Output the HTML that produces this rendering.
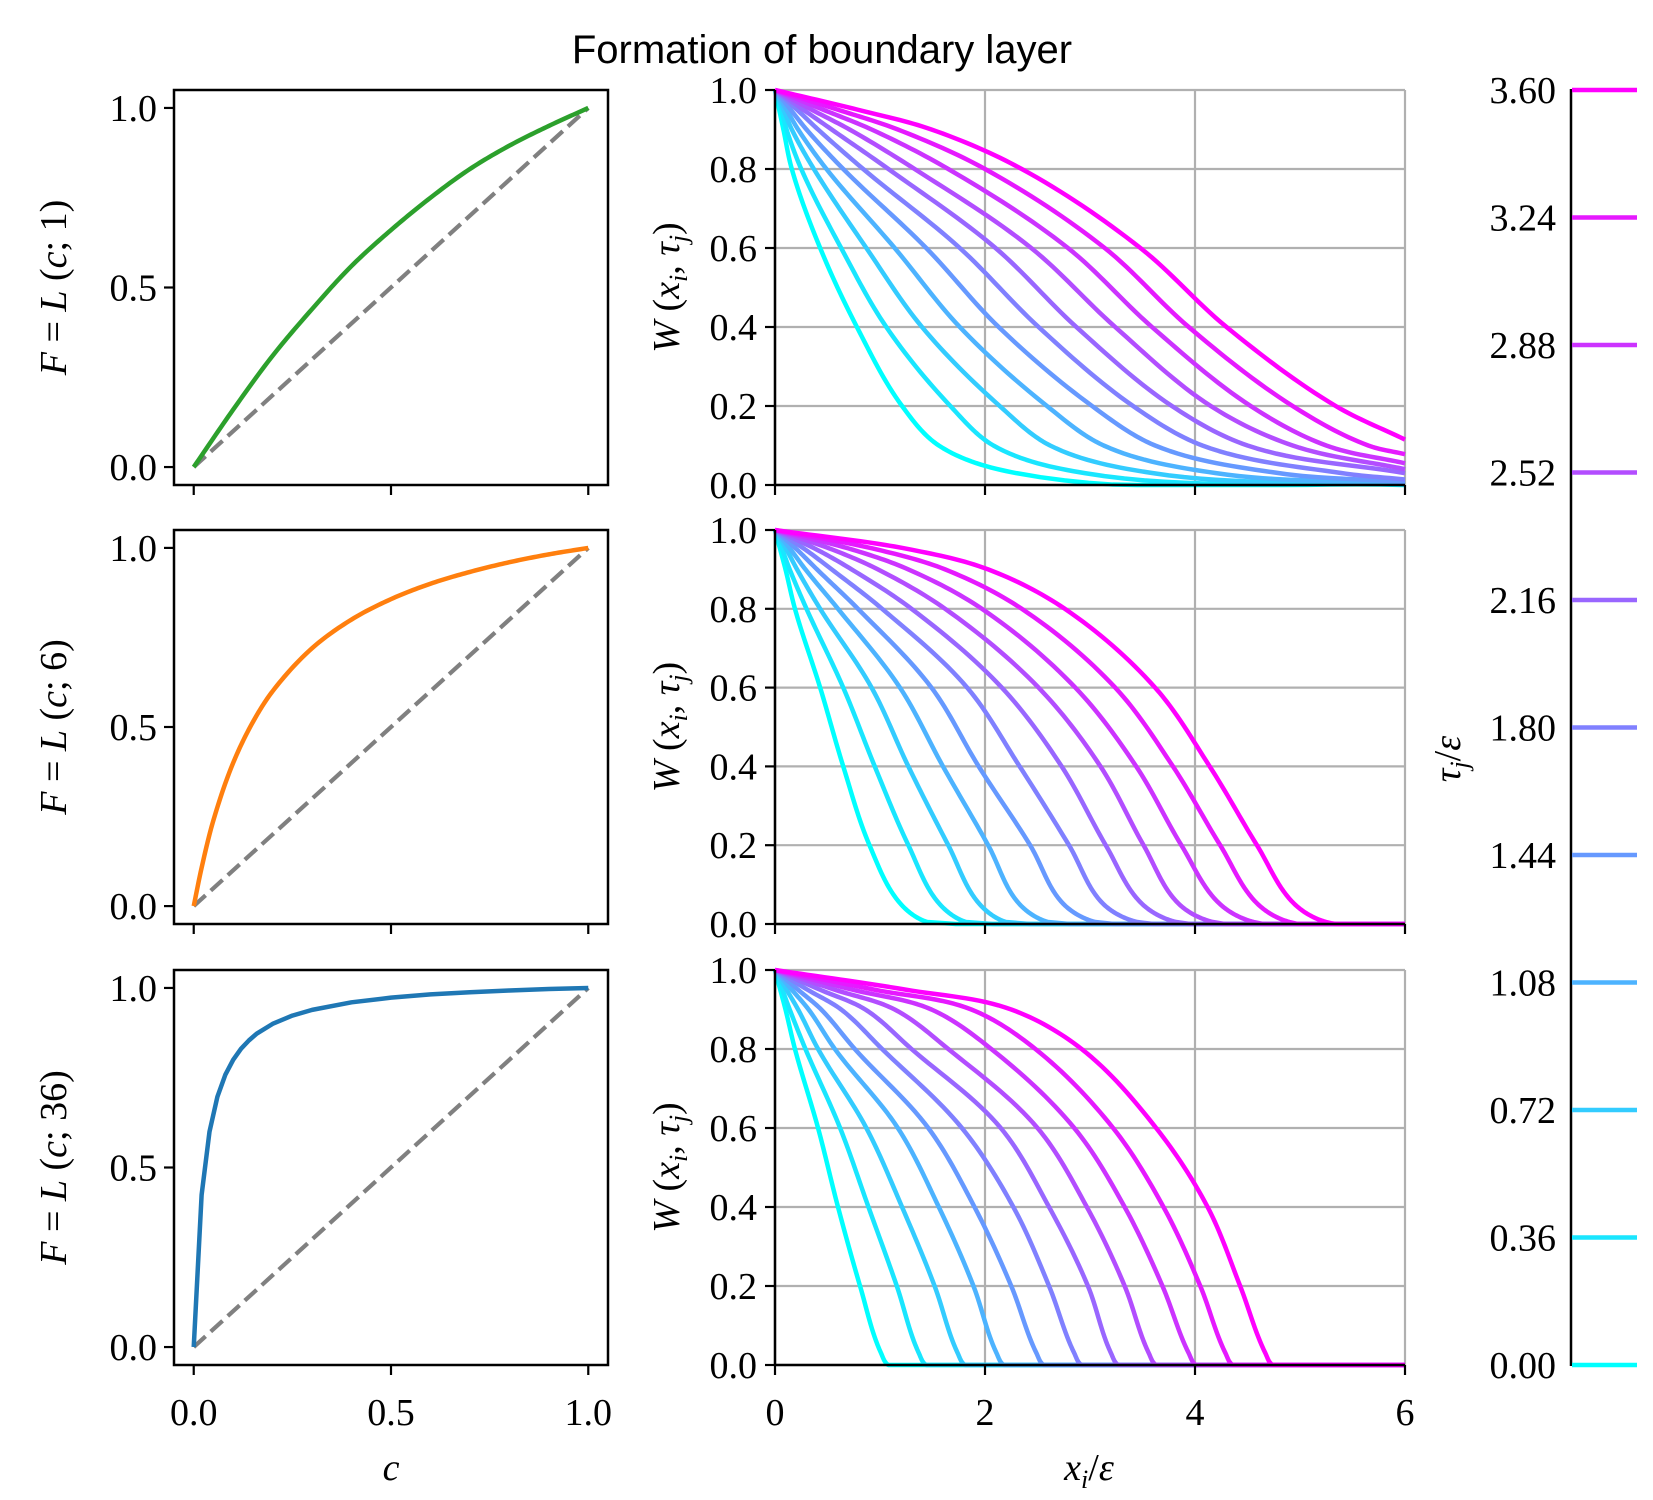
<!DOCTYPE html>
<html><head><meta charset="utf-8"><style>
html,body{margin:0;padding:0;background:#fff;}
svg{display:block;}
text{font-family:"Liberation Serif",serif;fill:#000;}
</style></head><body>
<svg id="fig" width="1653" height="1500" viewBox="0 0 1653 1500" xmlns="http://www.w3.org/2000/svg">
<text x="822" y="63" text-anchor="middle" style="font-family:'Liberation Sans',sans-serif;font-size:40px">Formation of boundary layer</text>
</svg>
<script>
// ---------- data ----------
const leftC1 = [0,0.1,0.2,0.3,0.4,0.5,0.6,0.7,0.8,0.9,1.0];
const leftF1 = [0,0.16,0.31,0.44,0.56,0.66,0.75,0.83,0.895,0.95,1.0];
const leftC6 = [0,0.02,0.05,0.1,0.15,0.2,0.3,0.4,0.5,0.6,0.7,0.8,0.9,1.0];
const leftF6 = [0,0.107,0.24,0.4,0.514,0.6,0.72,0.8,0.857,0.9,0.933,0.96,0.982,1.0];
const leftC36 = [0,0.02,0.04,0.06,0.08,0.1,0.12,0.14,0.16,0.2,0.25,0.3,0.4,0.5,0.6,0.7,0.8,0.9,1.0];
const leftF36 = [0,0.424,0.6,0.697,0.758,0.8,0.831,0.854,0.873,0.9,0.923,0.939,0.96,0.973,0.982,0.988,0.993,0.997,1.0];

const tauValues = [0,0.36,0.72,1.08,1.44,1.80,2.16,2.52,2.88,3.24,3.60];
const tauLabels = ["0.00","0.36","0.72","1.08","1.44","1.80","2.16","2.52","2.88","3.24","3.60"];

// x-positions where each curve crosses the given W levels (null = not crossed in range)
const row1Levels = [0.95,0.9,0.8,0.6,0.4,0.2,0.1,0.03];
const row1Cross = [
 [0.04,0.08,0.16,0.43,0.78,1.21,1.56,2.3],
 [0.06,0.11,0.25,0.63,1.06,1.67,2.08,2.95],
 [0.08,0.16,0.37,0.87,1.40,2.14,2.62,3.6],
 [0.11,0.22,0.49,1.14,1.76,2.59,3.13,4.2],
 [0.15,0.30,0.65,1.44,2.13,3.02,3.62,4.8],
 [0.21,0.41,0.84,1.76,2.51,3.41,4.07,5.4],
 [0.27,0.54,1.08,2.10,2.87,3.78,4.5,null],
 [0.35,0.71,1.33,2.44,3.24,4.15,4.93,null],
 [0.46,0.92,1.65,2.79,3.59,4.53,5.25,null],
 [0.60,1.17,2.00,3.14,3.94,4.93,5.65,null],
 [0.79,1.49,2.35,3.48,4.30,5.34,null,null]];
const row1End = [0,0.001,0.002,0.004,0.008,0.014,0.03,0.04,0.055,0.078,0.115];

const row2Levels = [0.95,0.9,0.8,0.6,0.4,0.2,0.05,0.005];
const row2Cross = [
 [0.05,0.10,0.19,0.43,0.65,0.90,1.20,1.45],
 [0.07,0.14,0.30,0.65,0.95,1.27,1.57,1.82],
 [0.11,0.21,0.43,0.92,1.27,1.65,1.95,2.2],
 [0.15,0.29,0.60,1.19,1.60,2.03,2.33,2.6],
 [0.21,0.40,0.79,1.49,1.94,2.43,2.75,3.05],
 [0.29,0.54,1.02,1.83,2.33,2.80,3.13,3.45],
 [0.40,0.73,1.30,2.16,2.73,3.15,3.50,3.82],
 [0.55,0.98,1.62,2.51,3.10,3.51,3.85,4.17],
 [0.74,1.27,1.97,2.86,3.44,3.87,4.24,4.56],
 [0.98,1.62,2.35,3.24,3.79,4.24,4.60,4.9],
 [1.30,2.03,2.76,3.62,4.14,4.59,4.95,5.25]];
const row2End = [0,0,0,0,0,0,0,0,0,0,0];

const row3Levels = [0.95,0.9,0.8,0.6,0.4,0.2,0.03,0.0];
const row3Cross = [
 [0.05,0.10,0.19,0.41,0.60,0.81,1.01,1.08],
 [0.07,0.14,0.29,0.62,0.89,1.16,1.37,1.44],
 [0.11,0.22,0.41,0.87,1.21,1.52,1.74,1.81],
 [0.16,0.32,0.57,1.17,1.56,1.89,2.11,2.18],
 [0.22,0.44,0.76,1.46,1.90,2.25,2.49,2.56],
 [0.31,0.63,1.02,1.78,2.27,2.61,2.85,2.92],
 [0.43,0.86,1.30,2.15,2.61,2.98,3.20,3.27],
 [0.57,1.14,1.65,2.50,2.97,3.33,3.56,3.63],
 [0.74,1.49,2.06,2.85,3.33,3.69,3.94,4.01],
 [0.95,1.87,2.48,3.22,3.70,4.05,4.29,4.36],
 [1.25,2.25,2.92,3.63,4.12,4.43,4.67,4.74]];
const row3End = [0,0,0,0,0,0,0,0,0,0,0];

const leftTicks = [0,0.5,1.0];
const leftTickLabels = ["0.0","0.5","1.0"];
const midXTicks = [0,2,4,6];
const midYTicks = [0,0.2,0.4,0.6,0.8,1.0];
const midYTickLabels = ["0.0","0.2","0.4","0.6","0.8","1.0"];

// ---------- layout ----------
const NS = "http://www.w3.org/2000/svg";
const svg = document.getElementById('fig');
const rowsY = [[90,485],[530,924],[970,1365]];
const LX0 = 174, LX1 = 608, MX0 = 775, MX1 = 1405;

function el(tag, attrs, parent){
  const e = document.createElementNS(NS, tag);
  for (const k in attrs) e.setAttribute(k, attrs[k]);
  (parent||svg).appendChild(e);
  return e;
}
function coolColor(t){
  const r = Math.round(255*t), g = Math.round(255*(1-t));
  return `rgb(${r},${g},255)`;
}
// G1-smooth curve through pixel points (chord-length control arms)
function smoothPath(P, yMax){
  const n = P.length, D = [];
  for(let i=0;i<n;i++){
    let dx, dy;
    if(i===0){dx=P[1][0]-P[0][0]; dy=P[1][1]-P[0][1];}
    else if(i===n-1){dx=P[n-1][0]-P[n-2][0]; dy=P[n-1][1]-P[n-2][1];}
    else {
      const la=Math.hypot(P[i][0]-P[i-1][0],P[i][1]-P[i-1][1])||1;
      const lb=Math.hypot(P[i+1][0]-P[i][0],P[i+1][1]-P[i][1])||1;
      dx=(P[i][0]-P[i-1][0])/la+(P[i+1][0]-P[i][0])/lb;
      dy=(P[i][1]-P[i-1][1])/la+(P[i+1][1]-P[i][1])/lb;
    }
    const len = Math.hypot(dx,dy)||1;
    D.push([dx/len, dy/len]);
  }
  let d = 'M'+P[0][0].toFixed(2)+','+P[0][1].toFixed(2);
  for(let i=0;i<n-1;i++){
    const a=P[i], b=P[i+1];
    const L = Math.hypot(b[0]-a[0],b[1]-a[1])/3;
    const c1=[a[0]+D[i][0]*L, a[1]+D[i][1]*L], c2=[b[0]-D[i+1][0]*L, b[1]-D[i+1][1]*L];
    for(let s=1;s<=16;s++){
      const t=s/16, u=1-t;
      const x=u*u*u*a[0]+3*u*u*t*c1[0]+3*u*t*t*c2[0]+t*t*t*b[0];
      let y=u*u*u*a[1]+3*u*u*t*c1[1]+3*u*t*t*c2[1]+t*t*t*b[1];
      if(yMax!==undefined && y>yMax) y=yMax;
      d += 'L'+x.toFixed(2)+','+y.toFixed(2);
    }
  }
  return d;
}

// ---------- left panels ----------
const leftSets = [[leftC1,leftF1,'#2ca02c','1'],[leftC6,leftF6,'#ff7f0e','6'],[leftC36,leftF36,'#1f77b4','36']];
leftSets.forEach((set,r)=>{
  const [y0,y1] = rowsY[r];
  const sx = v => LX0 + (v+0.05)/1.1*(LX1-LX0);
  const sy = v => y1 - (v+0.05)/1.1*(y1-y0);
  const g = el('g',{});
  
  
  const dash = el('line',{x1:sx(0),y1:sy(0),x2:sx(1),y2:sy(1),stroke:'#808080','stroke-width':4.2,'stroke-dasharray':'16,7'},g);
  
  
  let path;
  if(r===2){
    const pts = set[0].map((c,i)=>sx(c).toFixed(2)+','+sy(set[1][i]).toFixed(2)).join(' ');
    path = el('polyline',{points:pts,fill:'none',stroke:set[2],'stroke-width':4.5,'stroke-linejoin':'round'},g);
  } else {
    const P = set[0].map((c,i)=>[sx(c), sy(set[1][i])]);
    path = el('path',{d:smoothPath(P),fill:'none',stroke:set[2],'stroke-width':4.5,'stroke-linejoin':'round'},g);
  }
  
  
  const box = el('rect',{x:LX0,y:y0,width:LX1-LX0,height:y1-y0,fill:'none',stroke:'#000','stroke-width':2.5},g);
  
  
  leftTicks.forEach((v,i)=>{
    el('line',{x1:LX0-10,x2:LX0,y1:sy(v),y2:sy(v),stroke:'#000','stroke-width':2.2},g);
    const t = el('text',{x:157,y:sy(v)+13,'text-anchor':'end','font-size':38},g);
    t.textContent = leftTickLabels[i];
    
    
    el('line',{x1:sx(v),x2:sx(v),y1:y1,y2:y1+10,stroke:'#000','stroke-width':2.2},g);
    if(r===2){
      const tx = el('text',{x:sx(v),y:1425,'text-anchor':'middle','font-size':38},g);
      tx.textContent = leftTickLabels[i];
      
      
    }
  });
  const cy = (y0+y1)/2;
  const yl = el('text',{x:0,y:0,'text-anchor':'middle','font-size':38,transform:`translate(66,${cy}) rotate(-90)`},g);
  yl.innerHTML = `<tspan font-style="italic">F</tspan> = <tspan font-style="italic">L</tspan> (<tspan font-style="italic">c</tspan>; ${set[3]})`;
  
  
});
const cl = el('text',{x:391,y:1480,'text-anchor':'middle','font-size':38,'font-style':'italic'});
cl.textContent='c';



// ---------- middle panels ----------
const midRows = [[row1Levels,row1Cross,row1End],[row2Levels,row2Cross,row2End],[row3Levels,row3Cross,row3End]];
midRows.forEach((row,r)=>{
  const [y0,y1] = rowsY[r];
  const sx = v => MX0 + v/6*(MX1-MX0);
  const sy = v => y1 - v*(y1-y0);
  const g = el('g',{});
  
  
  midXTicks.forEach(v=>el('line',{x1:sx(v),x2:sx(v),y1:y0,y2:y1,stroke:'#b0b0b0','stroke-width':2.2},g));
  midYTicks.forEach(v=>el('line',{x1:MX0,x2:MX1,y1:sy(v),y2:sy(v),stroke:'#b0b0b0','stroke-width':2.2},g));
  const [levels,cross,ends] = row;
  cross.forEach((cx,k)=>{
    const P=[[sx(0),sy(1)]];
    cx.forEach((x,j)=>{ if(x!==null && x<6){ P.push([sx(x),sy(levels[j])]); } });
    if(P[P.length-1][0]<sx(6)-0.5){ P.push([sx(6),sy(ends[k])]); }
    const path = el('path',{d:smoothPath(P,sy(0)),fill:'none',stroke:coolColor(tauValues[k]/3.6),'stroke-width':4.5,'stroke-linejoin':'round'},g);
    
    
  });
  el('line',{x1:MX0,x2:MX0,y1:y0,y2:y1+1,stroke:'#000','stroke-width':2.5},g);
  el('line',{x1:MX0-1,x2:MX1,y1:y1,y2:y1,stroke:'#000','stroke-width':2.5},g);
  midYTicks.forEach((v,i)=>{
    el('line',{x1:MX0-10,x2:MX0,y1:sy(v),y2:sy(v),stroke:'#000','stroke-width':2.2},g);
    const t = el('text',{x:757,y:sy(v)+13,'text-anchor':'end','font-size':38},g);
    t.textContent = midYTickLabels[i];
    
    
  });
  midXTicks.forEach(v=>{
    el('line',{x1:sx(v),x2:sx(v),y1:y1,y2:y1+10,stroke:'#000','stroke-width':2.2},g);
    if(r===2){
      const t = el('text',{x:sx(v),y:1425,'text-anchor':'middle','font-size':38},g);
      t.textContent = String(v);
      
      
    }
  });
  const cy=(y0+y1)/2;
  const yl = el('text',{x:0,y:0,'text-anchor':'middle','font-size':38,transform:`translate(679,${cy}) rotate(-90)`},g);
  yl.innerHTML = `<tspan font-style="italic">W</tspan> (<tspan font-style="italic">x</tspan><tspan font-style="italic" font-size="26" dy="8">i</tspan><tspan dy="-8">, </tspan><tspan font-style="italic">τ</tspan><tspan font-style="italic" font-size="26" dy="8">j</tspan><tspan dy="-8">)</tspan>`;
  
  
});
const xl = el('text',{x:1089,y:1480,'text-anchor':'middle','font-size':38});
xl.innerHTML = `<tspan font-style="italic">x</tspan><tspan font-style="italic" font-size="26" dy="8">i</tspan><tspan dy="-8">/</tspan><tspan font-style="italic">ε</tspan>`;



// ---------- colorbar ----------
const cbG = el('g',{});


const cbY = v => 1365 - v/3.6*(1365-90);
el('line',{x1:1571,x2:1571,y1:89,y2:1366,stroke:'#000','stroke-width':2.5},cbG);
tauValues.forEach((v,i)=>{
  const ln = el('line',{x1:1572,x2:1637,y1:cbY(v),y2:cbY(v),stroke:coolColor(v/3.6),'stroke-width':4.5},cbG);
  
  
  const t = el('text',{x:1556,y:cbY(v)+13,'text-anchor':'end','font-size':38},cbG);
  t.textContent = tauLabels[i];
  
  
});
const cbl = el('text',{x:0,y:0,'text-anchor':'middle','font-size':38,transform:'translate(1460,759) rotate(-90)'},cbG);
cbl.innerHTML = `<tspan font-style="italic">τ</tspan><tspan font-style="italic" font-size="26" dy="8">j</tspan><tspan dy="-8">/</tspan><tspan font-style="italic">ε</tspan>`;


</script>
</body></html>
